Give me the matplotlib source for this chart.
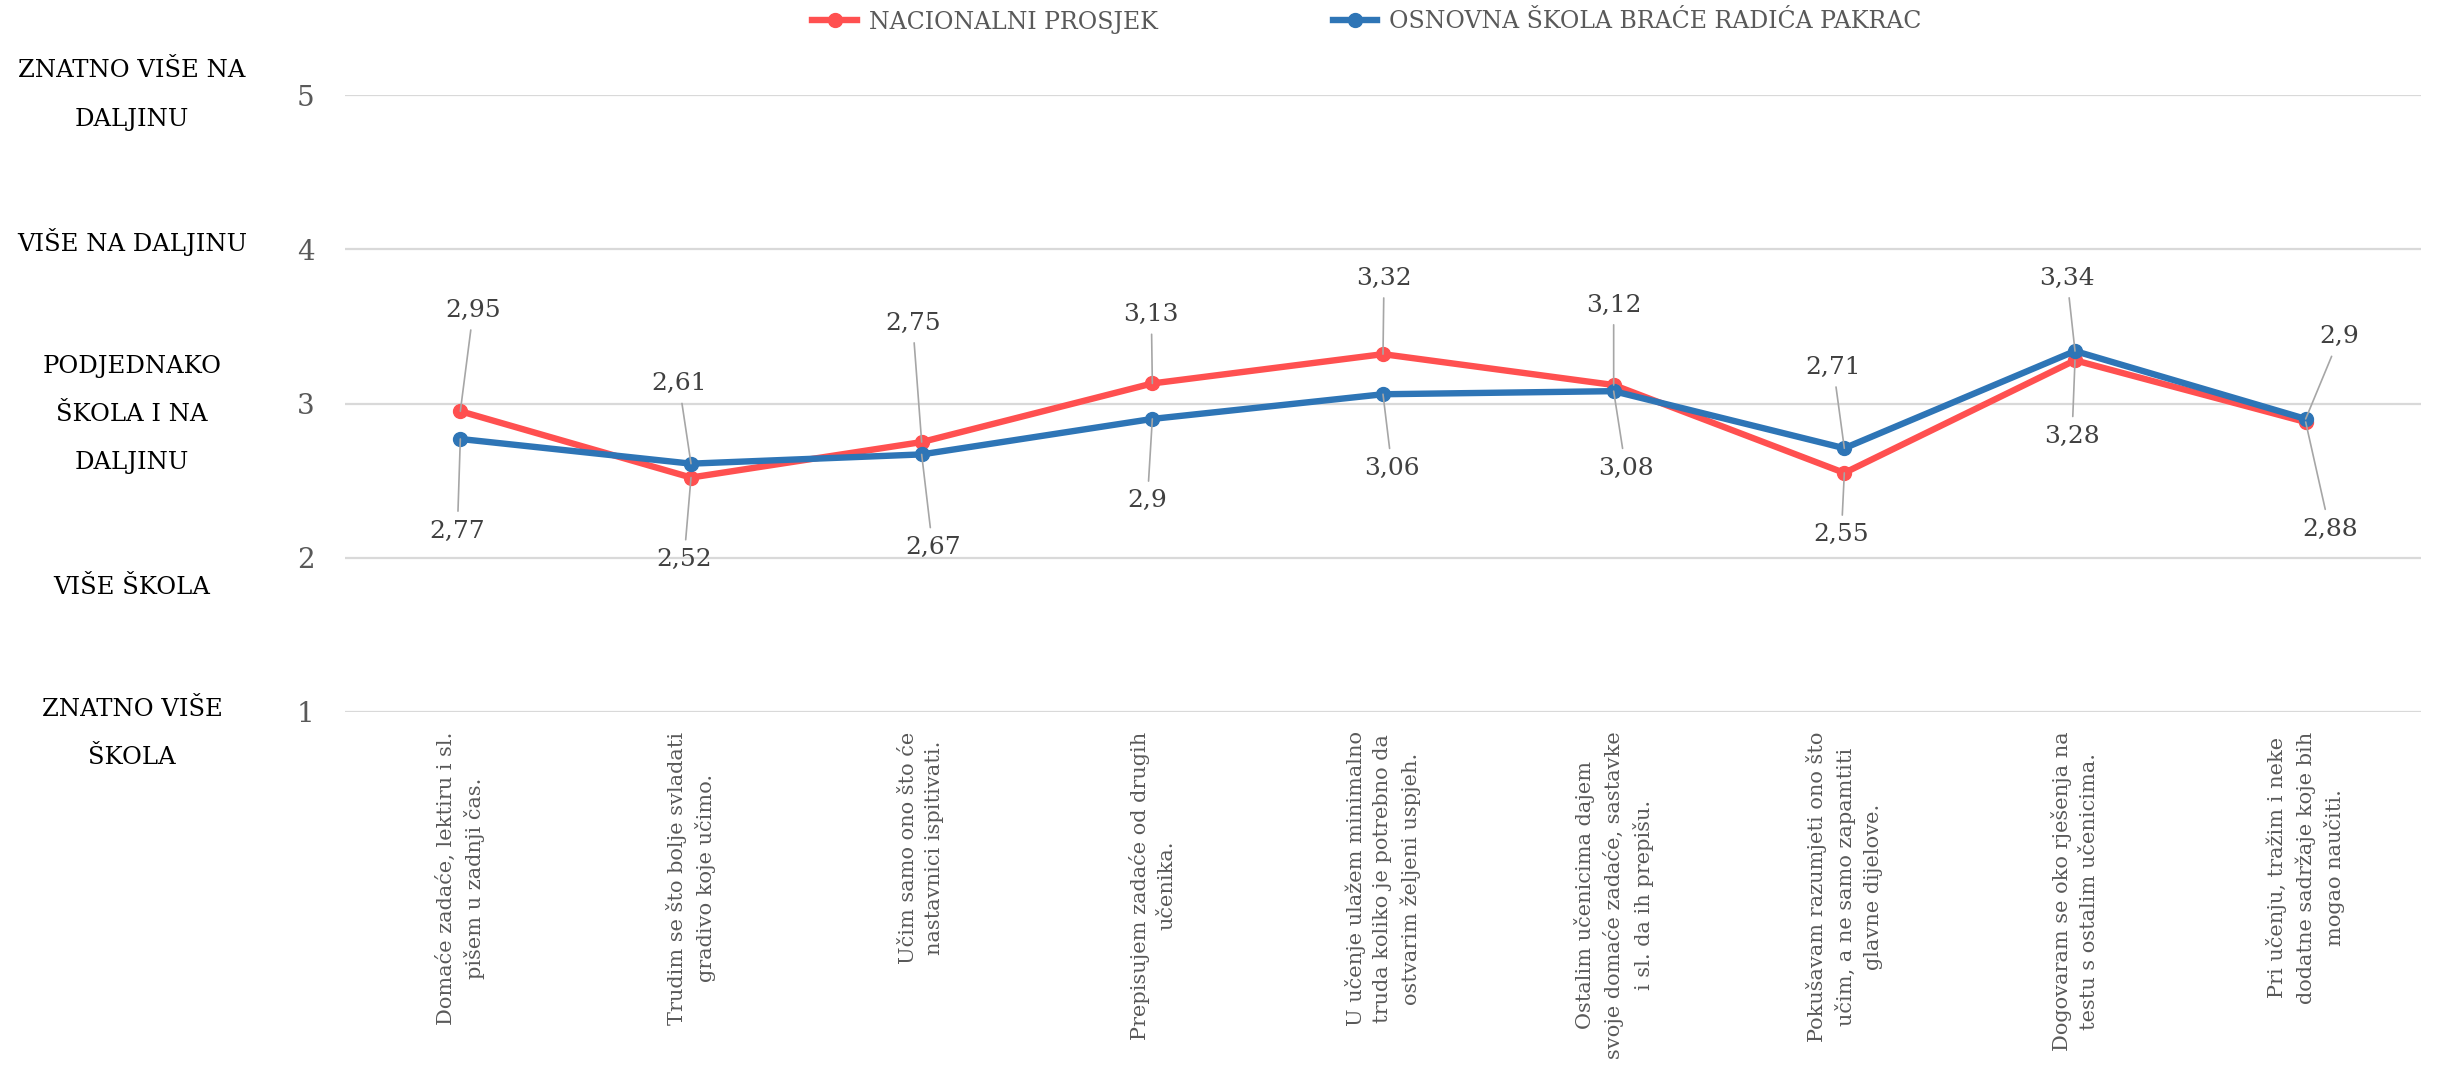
import matplotlib
matplotlib.use("Agg")
import matplotlib.pyplot as plt
import matplotlib.transforms as mtransforms

# data
categories = [
    "Domaće zadaće, lektiru i sl.\npišem u zadnji čas.",
    "Trudim se što bolje svladati\ngradivo koje učimo.",
    "Učim samo ono što će\nnastavnici ispitivati.",
    "Prepisujem zadaće od drugih\nučenika.",
    "U učenje ulažem minimalno\ntruda koliko je potrebno da\nostvarim željeni uspjeh.",
    "Ostalim učenicima dajem\nsvoje domaće zadaće, sastavke\ni sl. da ih prepišu.",
    "Pokušavam razumjeti ono što\nučim, a ne samo zapamtiti\nglavne dijelove.",
    "Dogovaram se oko rješenja na\ntestu s ostalim učenicima.",
    "Pri učenju, tražim i neke\ndodatne sadržaje koje bih\nmogao naučiti.",
]
nacionalni = [2.95, 2.52, 2.75, 3.13, 3.32, 3.12, 2.55, 3.28, 2.88]
skola = [2.77, 2.61, 2.67, 2.90, 3.06, 3.08, 2.71, 3.34, 2.90]
series_names = ["NACIONALNI PROSJEK", "OSNOVNA ŠKOLA BRAĆE RADIĆA PAKRAC"]
y_ticks = [1, 2, 3, 4, 5]
scale_labels = ["ZNATNO VIŠE NA\nDALJINU", "VIŠE NA DALJINU",
                "PODJEDNAKO\nŠKOLA I NA\nDALJINU", "VIŠE ŠKOLA",
                "ZNATNO VIŠE\nŠKOLA"]

# layout only: where the scale texts sit and where each data label goes (pixels)
scale_label_y = [5.0, 4.05, 2.93, 1.81, 0.86]
red_offsets = [(13, 101), (-7, -82), (-9, 119), (-1, 69), (1, 76),
               (0, 80), (-3, -62), (-3, -76), (24, -107)]
blue_offsets = [(-3, -92), (-12, 80), (11, -93), (-5, -82), (9, -74),
                (12, -77), (-11, 81), (-8, 73), (34, 82)]

RED = "#FF5050"
BLUE = "#2E75B6"
GRID = "#D9D9D9"
GREY_TXT = "#595959"

W, H = 2438, 1077
plt.rcParams['font.family'] = ['DejaVu Serif', 'DejaVu Sans']

fig = plt.figure(figsize=(W / 100, H / 100), dpi=100)
ax = fig.add_axes([345 / W, 1 - 712 / H, (2421 - 345) / W, (712 - 95) / H])

x = list(range(len(categories)))
ax.plot(x, nacionalni, color=RED, lw=4.6, marker='o', ms=10,
        label=series_names[0], zorder=3)
ax.plot(x, skola, color=BLUE, lw=4.6, marker='o', ms=10,
        label=series_names[1], zorder=4)


def add_labels(values, offsets):
    for i, (v, off) in enumerate(zip(values, offsets)):
        ax.annotate(f"{v:g}".replace(".", ","), xy=(i, v), xytext=off,
                    textcoords='offset pixels', ha='center', va='center',
                    fontsize=18, color="#404040", zorder=5,
                    arrowprops=dict(arrowstyle='-', color="#A6A6A6", lw=1.2,
                                    shrinkA=4, shrinkB=0))


add_labels(nacionalni, red_offsets)
add_labels(skola, blue_offsets)

ax.set_xlim(-0.5, len(categories) - 0.5)
ax.set_ylim(1, 5)
ax.set_yticks(y_ticks)
ax.set_yticklabels([str(t) for t in y_ticks])
ax.yaxis.grid(True, color=GRID, lw=1.6)
ax.set_axisbelow(True)
for s in ax.spines.values():
    s.set_visible(False)
ax.tick_params(axis='y', length=0, pad=22, labelsize=20, labelcolor=GREY_TXT)
ax.tick_params(axis='x', length=0, pad=14)
ax.set_xticks(x)
ax.set_xticklabels(categories, rotation=90, ha='center', va='top',
                   multialignment='center', fontsize=15, color=GREY_TXT,
                   linespacing=1.5)

# scale descriptions on the far left
trans = mtransforms.blended_transform_factory(fig.transFigure, ax.transData)
for txt, yy in zip(scale_labels, scale_label_y):
    ax.text(132 / W, yy, txt, transform=trans, ha='center', va='center',
            multialignment='center', fontsize=17.5, color='black',
            linespacing=2.4, clip_on=False)

fig.legend(loc='center', bbox_to_anchor=(1367 / W, 1 - 22 / H), ncol=2,
           frameon=False, fontsize=17, handlelength=1.9, handletextpad=0.5,
           columnspacing=7.4, labelcolor=GREY_TXT)

fig.savefig("out.png", dpi=100)
